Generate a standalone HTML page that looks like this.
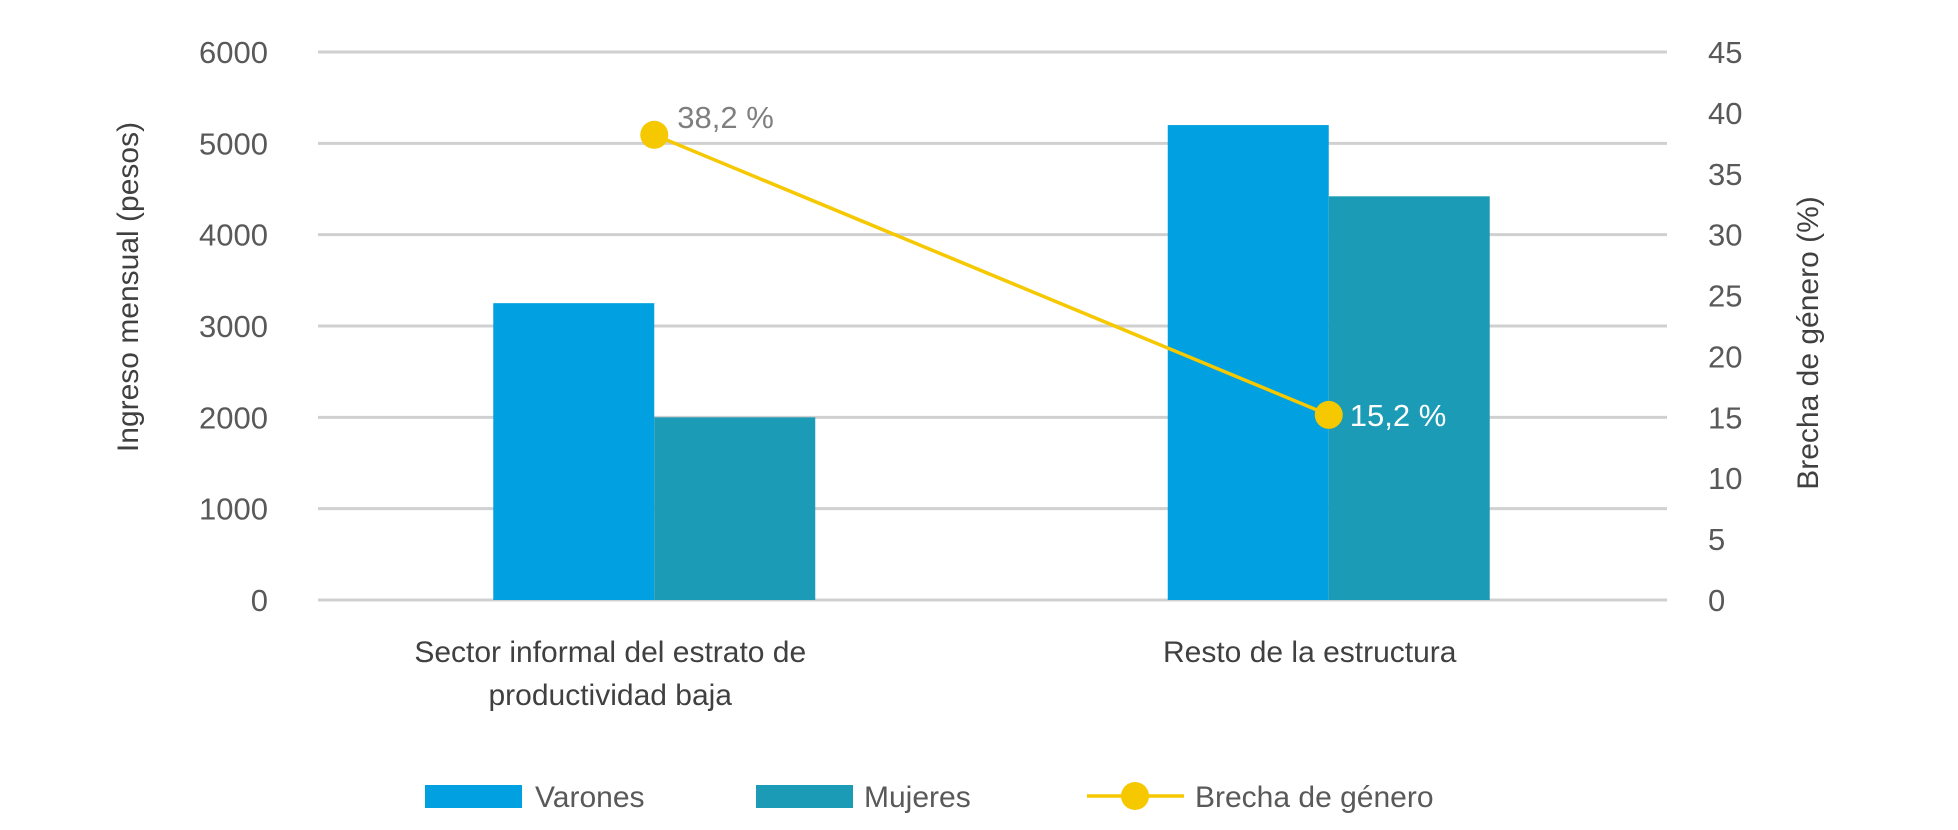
<!DOCTYPE html>
<html><head><meta charset="utf-8"><style>
body{margin:0;background:#fff;}
svg{display:block;font-family:"Liberation Sans",sans-serif;}
</style></head><body>
<svg id="chart" width="1958" height="830"></svg>
<script>
const categories=["Sector informal del estrato de|productividad baja","Resto de la estructura"];
const varones=[3250,5200];
const mujeres=[2000,4420];
const brecha=[38.2,15.2];
const brechaLabels=["38,2 %","15,2 %"];
const leftTicks=[0,1000,2000,3000,4000,5000,6000];
const rightTicks=[0,5,10,15,20,25,30,35,40,45];

const svg=document.getElementById('chart');
const NS='http://www.w3.org/2000/svg';
const X0=318,X1=1667,Y0=600,Y1=52;
const yL=v=>Y0-(v/6000)*(Y0-Y1);
const yR=v=>Y0-(v/45)*(Y0-Y1);
const groupW=(X1-X0)/categories.length;
const gc=i=>X0+groupW*(i+0.5)-1;
const barW=161;
function el(t,a,p){const e=document.createElementNS(NS,t);for(const k in a)e.setAttribute(k,a[k]);(p||svg).appendChild(e);return e;}
function txt(s,a){const e=el('text',a);e.textContent=s;return e;}

leftTicks.forEach(v=>{
 const g=el('line',{x1:X0,x2:X1,y1:yL(v),y2:yL(v),stroke:'#d0d0d0','stroke-width':3});
 
 
 const t=txt(String(v),{x:268,y:yL(v)+11,'text-anchor':'end','font-size':31,fill:'#595959'});
 
 
});
rightTicks.forEach(v=>{
 const t=txt(String(v),{x:1708,y:yR(v)+11,'font-size':31,fill:'#595959'});
 
 
});
categories.forEach((c,i)=>{
 const cx=gc(i);
 const b1=el('rect',{x:cx-barW,y:yL(varones[i]),width:barW,height:Y0-yL(varones[i]),fill:'#00a0e1'});
 
 
 const b2=el('rect',{x:cx,y:yL(mujeres[i]),width:barW,height:Y0-yL(mujeres[i]),fill:'#1b9bb5'});
 
 
 c.split('|').forEach((line,j)=>{
  const t=txt(line,{x:cx-44+(i==1?25:0),y:662+j*43,'text-anchor':'middle','font-size':30,fill:'#404040'});
  
  
 });
});
const pl=el('polyline',{points:brecha.map((v,i)=>gc(i)+','+yR(v)).join(' '),fill:'none',stroke:'#f5c800','stroke-width':3.5});


brecha.forEach((v,i)=>{
 const c=el('circle',{cx:gc(i),cy:yR(v),r:14,fill:'#f5c800'});
 
 
 const t=txt(brechaLabels[i],{x:gc(i)+(i==0?23:21),y:yR(v)+(i==0?-7:11),'font-size':31,fill:i==0?'#7f7f7f':'#ffffff'});
 
 
});
let t=txt('Ingreso mensual (pesos)',{x:0,y:0,'font-size':30,fill:'#404040','text-anchor':'middle',transform:'translate(138,287) rotate(-90)'});


t=txt('Brecha de género (%)',{x:0,y:0,'font-size':30,fill:'#404040','text-anchor':'middle',transform:'translate(1818,343) rotate(-90)'});


// legend
let r=el('rect',{x:425,y:785,width:97,height:23,fill:'#00a0e1'});


t=txt('Varones',{x:535,y:807,'font-size':30,fill:'#595959'});


r=el('rect',{x:756,y:785,width:97,height:23,fill:'#1b9bb5'});


t=txt('Mujeres',{x:864,y:807,'font-size':30,fill:'#595959'});


r=el('line',{x1:1087,x2:1184,y1:796,y2:796,stroke:'#f5c800','stroke-width':3.5});


r=el('circle',{cx:1135,cy:796,r:14,fill:'#f5c800'});


t=txt('Brecha de género',{x:1195,y:807,'font-size':30,fill:'#595959'});


</script>
</body></html>
